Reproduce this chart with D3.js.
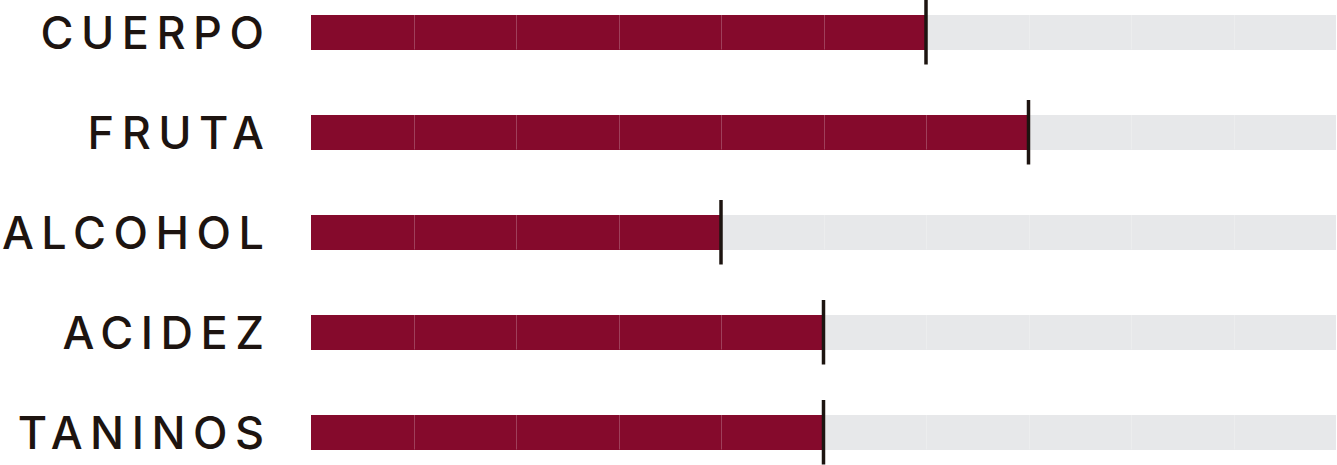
<!DOCTYPE html>
<html>
<head>
<meta charset="utf-8">
<script src="https://cdn.jsdelivr.net/npm/d3@7"></script>
<style>
  html, body { margin: 0; padding: 0; background: #ffffff; }
  svg { display: block; }
</style>
</head>
<body>
<svg id="chart" width="1337" height="465"></svg>
<script>
// ---- data ----
const categories = ["CUERPO", "FRUTA", "ALCOHOL", "ACIDEZ", "TANINOS"];
const values = [6, 7, 4, 5, 5];
const maxValue = 10;

// ---- styles ----
const fillOn = "#850a2c";
const fillOff = "#e7e8ea";
const markerColor = "#1d1410";
const textColor = "#1d1410";

const svg = d3.select("#chart");

const x = d3.scaleLinear().domain([0, maxValue]).range([311, 1336]);
const y = d3.scaleBand().domain(categories).range([15, 449.5]).paddingInner(0.655).paddingOuter(0);

const rows = categories.map((c, i) => ({ cat: c, value: values[i] }));
const segIdx = d3.range(maxValue);

const g = svg.selectAll("g.row").data(rows).join("g").attr("class", "row");

// segments
g.selectAll("rect.seg")
  .data(d => segIdx.map(k => ({ k, on: k < d.value, cat: d.cat })))
  .join("rect")
  .attr("class", "seg")
  .attr("x", s => x(s.k))
  .attr("width", s => x(s.k + 1) - x(s.k))
  .attr("y", s => y(s.cat))
  .attr("height", y.bandwidth())
  .attr("fill", s => s.on ? fillOn : fillOff)
  .attr("shape-rendering", "crispEdges");

// separators
g.selectAll("line.sep")
  .data(d => d3.range(1, maxValue).map(k => ({ k, cat: d.cat })))
  .join("line")
  .attr("class", "sep")
  .attr("x1", s => Math.round(x(s.k)) + 0.5)
  .attr("x2", s => Math.round(x(s.k)) + 0.5)
  .attr("y1", s => y(s.cat))
  .attr("y2", s => y(s.cat) + y.bandwidth())
  .attr("stroke", "#ffffff")
  .attr("stroke-opacity", 0.22)
  .attr("stroke-width", 1);

// marker
g.append("line")
  .attr("x1", d => x(d.value))
  .attr("x2", d => x(d.value))
  .attr("y1", d => y(d.cat) - 15)
  .attr("y2", d => y(d.cat) + y.bandwidth() + 15)
  .attr("stroke", markerColor)
  .attr("stroke-width", 3.5);

// labels
const ls = 7.5;
g.append("text")
  .attr("x", 264 + ls)
  .attr("y", d => y(d.cat) + y.bandwidth() - 1)
  .attr("text-anchor", "end")
  .attr("fill", textColor)
  .style("font-family", "Inter, 'Open Sans', sans-serif")
  .style("font-weight", 500)
  .style("font-size", "45px")
  .style("letter-spacing", ls + "px")
  .text(d => d.cat);
</script>
</body>
</html>
